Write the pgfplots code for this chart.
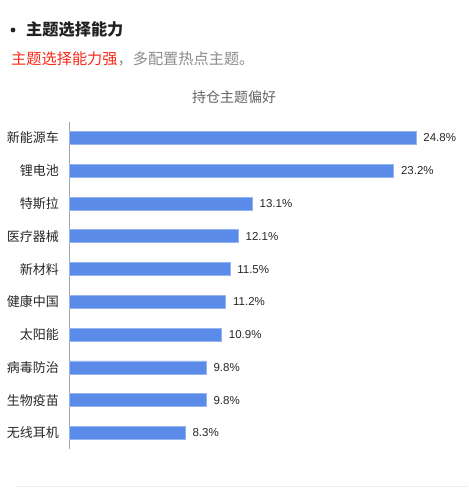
\documentclass[border=0pt]{standalone}
\usepackage{pgfplots}
\pgfplotsset{compat=1.18}
\usepackage{fontspec}
\setmainfont{Noto Sans CJK SC}
\newfontfamily\numfont{Liberation Sans}
\definecolor{barblue}{RGB}{91,139,233}
\definecolor{baredge}{RGB}{150,180,240}
\definecolor{titlec}{RGB}{34,34,34}
\definecolor{redc}{RGB}{250,40,25}
\definecolor{grayc}{RGB}{140,140,140}
\definecolor{ctitle}{RGB}{100,100,100}
\definecolor{labc}{RGB}{40,40,40}
\begin{document}
\begin{tikzpicture}[x=1bp,y=1bp]
\fill[white] (0,0) rectangle (468,-489);
% header
\fill[titlec] (13,-30) circle (2.4);
\node[anchor=base west, inner sep=0pt, font=\fontsize{16.2bp}{18bp}\selectfont\bfseries, text=titlec] at (26,-36) {主题选择能力};
\node[anchor=base west, inner sep=0pt, font=\fontsize{15.2bp}{17bp}\selectfont] at (11,-64.8) {\textcolor{redc}{主题选择能力强}\textcolor{grayc}{，多配置热点主题。}};
\node[anchor=base, inner sep=0pt, font=\fontsize{14bp}{16bp}\selectfont, text=ctitle] at (234,-102.2) {持仓主题偏好};
\draw[gray!15, line width=1bp] (17,-486) -- (468,-486);
\begin{axis}[
  at={(69bp,-121.6bp)}, anchor=north west,
  width=347bp, height=327.8bp, scale only axis,
  xmin=0, xmax=24.8, ymin=-0.5, ymax=9.5,
  y dir=reverse,
  xbar, bar width=13bp,
  axis x line=none,
  axis y line=left,
  axis line style={-, draw=gray!70, line width=0.8bp},
  ytick={0,...,9},
  yticklabels={新能源车,锂电池,特斯拉,医疗器械,新材料,健康中国,太阳能,病毒防治,生物疫苗,无线耳机},
  major tick length=0pt,
  yticklabel style={font=\fontsize{13bp}{15bp}\selectfont, text=labc, inner sep=0pt, xshift=-10bp},
  clip=false,
  point meta=explicit symbolic,
  nodes near coords,
  nodes near coords align=horizontal,
  every node near coord/.append style={font=\numfont\fontsize{11.5bp}{13bp}\selectfont, text=labc, anchor=west, inner sep=0pt, xshift=7bp},
]
\addplot[fill=barblue, draw=baredge, line width=0.8bp] coordinates {
  (24.8,0) [24.8\%]
  (23.2,1) [23.2\%]
  (13.1,2) [13.1\%]
  (12.1,3) [12.1\%]
  (11.5,4) [11.5\%]
  (11.2,5) [11.2\%]
  (10.9,6) [10.9\%]
  (9.8,7) [9.8\%]
  (9.8,8) [9.8\%]
  (8.3,9) [8.3\%]
};
\end{axis}
\end{tikzpicture}
\end{document}
